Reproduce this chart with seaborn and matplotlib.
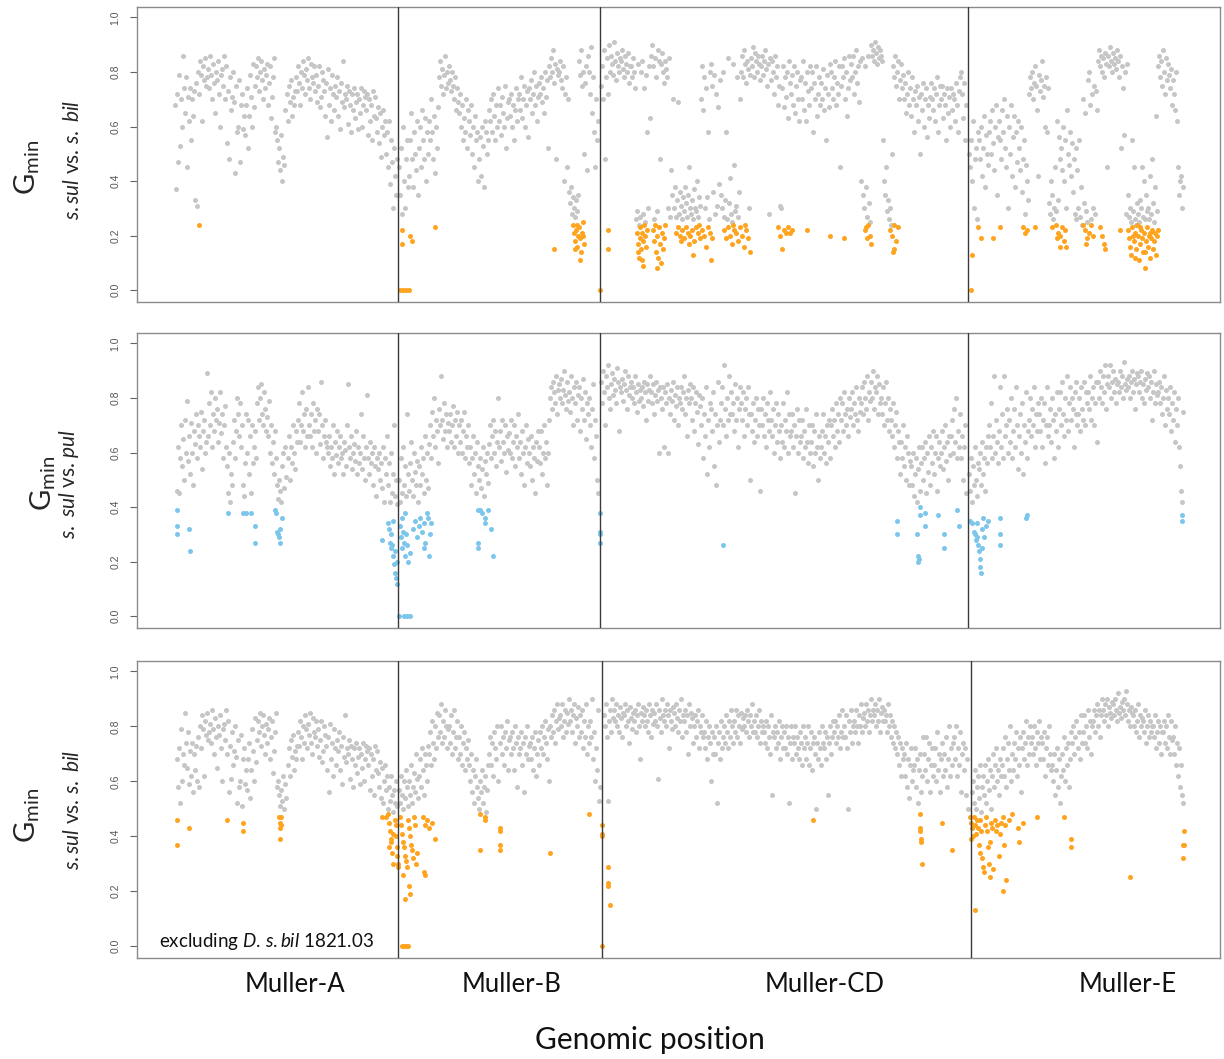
import numpy as np
import pandas as pd
import matplotlib
matplotlib.use("Agg")
import matplotlib.pyplot as plt
import seaborn as sns

# ---------------- data (Gmin values x100, windows in genomic order) ----------------
# panel 1 : s.sul vs s.bil
p1_A = [68,37,72,47,79,53,70,60,86,74, 65,78,45,71,62,74,55,70,64,73,
        33,76,31,80,72,84,79,62,82,77, 85,75,78,81,74,86,79,70,83,76,
        65,80,77,84,72,60,79,81,75,86, 70,82,54,73,48,78,66,71,80,69,
        43,75,58,60,77,47,68,72,59,64, 57,68,74,52,64,79,71,60,83,67,
        75,82,78,85,73,80,84,77,70,81, 74,79,83,68,76,82,63,71,78,85,
        58,60,55,47,52,44,57,40,49,46, 66,72,62,75,69,77,64,71,68,73,
        78,73,82,76,68,80,74,84,79,72, 81,77,85,74,70,83,78,76,82,73,
        79,69,75,82,67,71,80,77,73,64, 76,56,81,68,74,62,79,72,66,75,
        71,78,64,73,59,76,69,84,67,72, 70,75,61,73,68,58,72,66,74,63,
        69,72,59,70,65,74,60,68,73,71, 66,72,57,70,62,68,55,73,64,71,
        63,58,67,54,65,49,60,66,57,62, 50,58,45,62,39,55,47,30,52,42,35,48]
p1_B = [45,35,52,28,60,40,30,48,55,38, 42,55,65,48,38,58,50,44,62,35,
        52,60,45,66,55,48,63,40,58,50, 62,55,70,58,48,64,43,60,52,67,
        78,84,75,81,72,79,86,74,80,76, 82,77,73,80,75,70,78,66,74,69,
        65,72,60,68,55,63,58,70,52,66, 62,57,68,50,60,45,64,55,58,40,
        48,56,42,60,53,38,62,58,50,55, 66,62,70,58,72,64,55,68,60,74,
        62,68,57,71,65,60,75,52,63,69, 70,64,72,60,68,55,66,74,62,70,
        72,66,78,63,70,75,60,68,73,56, 74,70,77,65,72,80,68,75,62,71,
        76,72,78,69,74,65,80,71,77,52, 82,78,85,80,88,76,83,48,81,79,
        80,84,77,74,82,40,72,78,45,70, 36,32,38,28,34,30,27,33,29,35,
        84,79,88,75,80,50,76,82,44,86, 80,72,89,65,78,58,45,70,55,62]
p1_CD = [75,82,70,88,48,78,85,72,90,80, 86,83,79,91,84,77,87,82,80,85,
         84,88,81,78,86,83,80,87,76,82, 82,78,85,80,74,26,29,83,24,27,
         80,84,28,74,25,79,58,30,82,63, 86,90,82,26,85,78,29,88,84,48,
         83,87,80,76,84,81,78,30,85,27, 44,35,70,30,38,27,33,69,28,36,
         31,26,34,29,38,32,27,35,45,30, 28,33,26,37,30,29,40,27,34,31,
         70,82,66,78,30,74,34,58,26,80, 83,75,36,79,28,72,31,67,39,77,
         35,30,80,27,33,58,26,85,32,41, 28,25,83,46,29,31,78,27,36,70,
         80,86,78,88,83,76,84,81,30,79, 85,82,89,78,87,84,80,86,83,77,
         82,86,79,84,88,81,75,83,28,85, 77,84,80,72,86,78,82,68,75,31,
         30,74,82,67,78,71,80,63,84,76, 72,79,68,82,65,75,80,70,62,77,
         78,70,84,66,76,62,80,73,68,82, 74,80,58,76,70,82,64,72,78,68,
         76,70,81,66,74,55,79,72,67,83, 80,74,70,78,84,68,76,72,82,45,
         75,82,78,85,70,80,64,74,86,77, 83,78,86,72,80,88,76,82,69,84,
         40,85,35,30,82,38,27,86,32,25, 90,86,88,84,91,87,83,89,85,88,
         86,84,55,40,35,45,29,33,26,30, 24,50,82,78,86,75,80,84,70,77,
         83,74,79,70,76,65,72,80,68,74, 64,78,70,58,73,68,75,62,71,50,
         72,66,76,60,70,74,56,68,63,71, 76,70,66,74,62,72,78,58,68,75,
         70,75,63,72,68,55,74,65,71,60, 74,66,72,70,62,76,68,58,73,78,
         80,72,63,76,55,68]
p1_E = [50,45,55,40,62,30,48,52,26,58, 55,48,60,42,52,64,38,57,50,46,
        58,62,50,66,54,44,60,68,35,56, 62,55,48,66,58,70,52,45,64,30,
        60,50,68,42,56,64,38,58,47,62, 52,44,60,36,48,55,28,46,40,33,
        72,78,74,80,70,76,82,75,66,42, 79,73,77,84,71,75,60,78,58,74,
        32,28,40,35,26,30,45,29,62,33, 56,48,52,44,60,40,55,30,66,50,
        46,58,42,54,36,48,28,52,26,44, 30,55,27,38,24,70,32,65,29,25,
        77,80,68,26,72,30,75,28,73,66, 84,88,82,86,80,85,78,87,83,45,
        86,82,89,84,80,87,83,85,81,88, 84,78,86,52,82,74,57,80,28,83,
        35,27,30,25,55,29,45,26,24,32, 28,25,33,30,45,27,40,26,35,29,
        30,26,42,28,48,32,25,38,64,29, 82,86,78,84,75,88,80,72,85,77,
        83,79,74,81,68,77,72,66,80,62, 45,35,40,42,30,38]
p1_hi = [(199,.24),(400,0),(403,0),(406,0),(409,0),(402,.22),(410,.20),(412,.18),(402,.17),(435,.23),(554,.15),
         (573,.24),(574,.21),(575,.18),(576,.22),(577,.16),(578,.20),(579,.23),(580,.19),(581,.14),(582,.21),
         (583,.25),(584,.17),(580,.11),(577,.24),(583,.20),(575,.15),(600,0),(608,.22),(608,.15),
         (637,.21),(638,.17),(639,.12),(640,.23),(640,.19),(641,.15),(642,.21),(643,.18),(643,.09),(644,.24),
         (645,.20),(646,.16),(647,.22),(638,.14),(642,.11),
         (653,.22),(654,.18),(655,.24),(656,.14),(657,.20),(658,.12),(659,.23),(660,.17),(661,.10),(662,.21),
         (663,.15),(664,.19),(665,.24),(657,.08),
         (676,.21),(678,.23),(680,.20),(682,.22),(684,.19),(686,.23),(688,.21),(690,.20),(692,.22),(694,.18),
         (696,.23),(698,.21),(700,.19),(702,.22),(704,.20),(706,.16),(708,.23),(710,.21),(712,.19),(693,.13),
         (711,.11),(681,.18),(699,.24),(689,.17),
         (724,.22),(726,.19),(728,.23),(730,.20),(732,.17),(734,.22),(736,.21),(738,.18),(740,.23),(742,.20),
         (744,.16),(746,.22),(748,.19),(750,.14),(733,.24),(745,.24),
         (778,.23),(780,.20),(782,.15),(784,.22),(786,.21),(788,.23),(790,.21),(792,.22),
         (807,.22),(830,.20),(844,.19),
         (865,.22),(867,.19),(868,.24),(870,.20),(871,.17),(866,.23),
         (890,.22),(892,.20),(894,.24),(896,.18),(893,.14),(894,.15),(898,.23),
         (972,.13),(971,0),(978,.23),(981,.19),(993,.19),(1000,.23),
         (1023,.23),(1025,.21),(1027,.22),(1035,.23),
         (1052,.23),(1056,.24),(1058,.21),(1060,.20),(1062,.23),(1064,.18),(1066,.16),(1060,.16),(1057,.19),(1065,.22),
         (1083,.24),(1085,.22),(1087,.19),(1089,.21),(1091,.24),(1093,.20),(1086,.17),
         (1100,.23),(1102,.20),(1104,.17),(1105,.15),(1120,.22),
         (1128,.22),(1129,.19),(1130,.16),(1131,.13),(1132,.23),(1133,.20),(1134,.18),(1135,.21),(1136,.15),
         (1137,.24),(1138,.20),(1139,.11),(1140,.17),(1141,.22),(1142,.19),(1143,.14),(1144,.21),(1145,.08),
         (1146,.18),(1147,.23),(1148,.16),(1149,.20),(1150,.12),(1151,.19),(1152,.22),(1153,.15),(1154,.18),
         (1155,.21),(1156,.13),(1157,.20),(1158,.22),(1135,.12),(1140,.23),(1145,.14),(1150,.21)]

# panel 2 : s.sul vs pul
p2_A = [46,62,45,58,70,55,65,50,72,60, 79,57,66,52,71,60,48,68,63,74,
        58,70,66,62,75,54,68,72,60,64, 89,66,78,70,82,62,74,68,80,72,
        76,64,71,82,67,74,58,70,77,62, 55,45,60,42,52,48,64,72,58,68,
        80,74,66,78,62,70,48,44,56,74, 60,72,52,66,45,70,56,62,68,58,
        78,84,72,80,85,74,70,82,76,68, 73,66,79,60,70,56,64,52,68,58,
        48,43,50,46,42,55,60,47,62,51, 58,66,50,62,56,70,60,54,68,64,
        72,78,64,70,82,68,74,62,76,66, 84,70,66,74,62,78,68,72,60,76,
        68,74,63,86,70,58,66,72,64,62, 60,66,55,62,58,70,52,64,59,68,
        56,62,66,58,60,52,64,61,55,70, 85,62,58,66,54,60,63,57,68,52,
        62,56,60,74,54,66,58,50,62,81, 58,52,64,56,60,48,62,55,44,58,
        54,60,50,56,47,62,42,58,52,66, 48,56,42,60,45,52,70,44,50,41]
p2_B = [50,42,58,45,62,48,55,44,74,52, 46,56,64,50,44,60,53,48,57,42,
        55,48,62,52,58,45,66,50,60,47, 63,70,58,75,66,80,62,72,68,56,
        76,70,88,72,65,78,68,74,62,71, 68,74,64,70,77,62,72,66,75,60,
        70,64,72,60,68,75,58,66,62,70, 56,62,48,58,66,52,60,45,64,55,
        50,58,47,54,62,44,57,52,60,49, 63,70,58,66,72,60,68,55,64,80,
        62,68,57,72,64,60,70,53,66,61, 67,60,72,58,64,70,55,66,62,74,
        58,64,52,68,60,48,62,70,56,65, 60,55,66,50,62,58,45,64,57,68,
        62,56,68,52,60,70,58,64,48,60, 72,80,84,76,86,82,78,88,74,83,
        85,80,87,78,83,90,81,76,86,79, 82,75,88,80,70,84,78,86,72,81,
        84,68,80,76,87,72,82,65,78,74, 80,70,62,76,85,58,72,66,50,45]
p2_CD = [86,78,90,82,70,88,84,92,80,76, 85,89,81,87,83,78,91,86,68,84,
         82,87,79,85,90,83,76,88,81,84, 86,80,84,78,88,82,75,85,79,83,
         80,84,77,86,82,72,85,79,83,88, 82,78,85,74,81,86,79,83,60,84,
         80,76,84,62,82,78,85,60,80,74, 83,79,86,72,81,77,84,70,80,78,
         84,76,82,88,74,80,66,83,78,85, 80,72,84,68,78,82,75,63,81,77,
         70,80,58,74,66,84,52,72,62,78, 76,68,82,55,74,48,70,86,64,72,
         78,84,70,92,76,66,80,72,88,74, 82,74,78,68,85,72,80,62,76,84,
         78,72,82,66,76,80,70,84,74,50, 74,68,78,64,72,80,66,76,70,46,
         76,70,80,66,74,62,78,72,68,82, 72,66,76,60,70,78,64,74,68,58,
         70,64,78,62,72,68,82,60,74,66, 68,74,62,70,45,66,76,60,72,64,
         66,72,58,68,62,76,64,56,70,60, 64,70,55,68,60,74,62,50,66,58,
         62,68,74,60,66,56,70,64,72,58, 70,76,66,72,62,78,68,74,64,80,
         72,78,68,82,74,70,76,66,80,73, 76,82,70,78,74,84,72,68,80,75,
         78,84,74,86,80,76,88,72,82,79, 86,80,90,76,84,82,88,74,85,78,
         80,74,84,70,78,86,72,80,68,76, 72,66,78,62,70,75,58,68,64,52,
         64,58,70,55,62,50,66,60,48,57, 55,48,60,44,52,58,42,54,62,46,
         56,62,50,58,64,45,60,53,66,48, 62,56,68,52,60,66,46,58,64,55,
         60,68,54,62,70,57,64,50,66,59, 66,72,60,76,64,80,58,68,62,74,
         58,66,50,62,70,45]
p2_E = [52,46,58,42,55,48,62,50,44,56, 54,60,48,64,52,58,46,62,56,66,
        70,62,78,58,66,88,60,72,64,56, 68,84,62,74,58,88,66,70,76,60,
        72,64,80,58,68,76,62,84,70,54, 66,74,60,78,52,70,64,82,58,68,
        72,80,66,76,70,84,62,74,68,78, 74,68,80,62,72,78,56,70,84,66,
        70,76,64,80,72,58,74,68,82,62, 76,82,70,86,74,66,80,72,88,68,
        78,84,72,80,76,62,82,74,86,70, 74,80,68,84,76,72,86,70,82,78,
        82,76,88,72,80,84,70,78,86,64, 86,80,90,84,78,88,82,92,76,85,
        88,84,92,80,86,90,82,87,78,85, 86,82,90,84,88,80,93,85,83,87,
        84,88,80,86,90,82,87,76,85,89, 88,82,86,90,80,85,78,87,83,89,
        84,88,80,86,72,82,90,78,85,81, 82,86,78,84,74,80,88,70,83,76,
        80,74,84,68,78,72,82,64,76,70, 80,62,55,46,42,75]
p2_hi = [(177,.39),(177,.33),(177,.30),(189,.32),(190,.24),(228,.38),(243,.38),(246,.38),(251,.38),
         (255,.33),(255,.27),(275,.39),(276,.38),(277,.31),(278,.30),(279,.29),(280,.32),(280,.27),(282,.36),
         (382,.28),(388,.34),(389,.32),(390,.27),(391,.25),(392,.26),(393,.22),(394,.19),(395,.16),(396,.14),
         (397,.12),(391,.30),(395,.24),(393,.35),(397,.20),
         (400,.33),(401,.29),(402,.25),(403,.31),(404,.27),(405,.22),(406,.30),(407,.26),(408,.20),(402,.36),
         (405,.38),(410,.23),(399,0),(404,0),(407,0),(410,0),
         (413,.32),(415,.35),(417,.29),(419,.33),(420,.36),(422,.31),(424,.34),(425,.27),(427,.38),(428,.36),
         (430,.30),(431,.34),(424,.25),(429,.22),
         (478,.39),(480,.39),(482,.38),(485,.36),(478,.27),(478,.25),(485,.34),(491,.32),(493,.22),(488,.39),
         (600,.38),(600,.31),(600,.30),(600,.27),
         (723,.26),(897,.35),(897,.30),(917,.30),(918,.22),(918,.20),(919,.21),(920,.37),(920,.40),(925,.38),
         (925,.33),(938,.37),(944,.30),(944,.25),(957,.39),(959,.33),
         (970,.35),(972,.34),(974,.31),(975,.30),(976,.28),(977,.29),(978,.26),(979,.24),(980,.21),(980,.18),
         (981,.16),(982,.32),(983,.36),(984,.29),(986,.33),(988,.35),(982,.25),(977,.34),
         (1000,.36),(1000,.30),(1000,.26),(1026,.36),(1027,.37),(1182,.37),(1182,.35)]

# panel 3 : s.sul vs s.bil, excluding D. s.bil 1821.03
p3_A = [68,58,72,52,79,60,70,66,85,74, 65,78,59,71,62,74,56,70,64,73,
        60,76,58,80,72,84,79,62,82,77, 85,75,78,81,74,86,79,70,83,76,
        65,80,77,84,72,60,79,81,75,86, 70,82,56,73,61,78,66,71,80,69,
        52,75,58,60,77,51,68,72,59,64, 57,68,74,54,64,79,71,60,83,67,
        75,82,78,85,73,80,84,77,70,81, 74,79,83,68,76,82,63,71,78,85,
        58,60,55,51,57,53,62,50,59,54, 66,72,62,75,69,77,64,71,68,73,
        78,73,82,76,68,80,74,84,79,72, 81,77,85,74,70,83,78,76,82,73,
        79,69,75,82,67,71,80,77,73,64, 76,56,81,68,74,62,79,72,66,75,
        71,78,64,73,59,76,69,84,67,72, 70,75,61,73,68,58,72,66,74,63,
        69,72,59,70,65,74,60,68,73,71, 66,72,57,70,62,68,55,73,64,71,
        63,58,67,54,65,52,60,66,57,62, 50,58,53,62,55,49,57,52,60,51]
p3_B = [57,52,62,55,50,60,54,64,58,51, 60,55,66,52,58,63,56,70,61,54,
        62,68,58,72,64,55,70,66,60,73, 70,78,66,82,74,68,80,72,85,76,
        84,78,88,74,82,76,86,80,72,79, 80,74,84,70,78,86,72,76,82,68,
        76,70,80,66,74,78,64,72,68,75, 66,60,70,56,64,52,62,68,58,54,
        50,60,56,64,52,58,62,49,57,66, 70,76,66,74,62,78,72,68,80,60,
        74,80,70,76,66,78,72,82,64,75, 76,70,78,72,64,80,74,58,76,70,
        72,78,66,74,56,76,70,80,68,73, 74,68,76,64,72,78,62,70,75,66,
        78,72,80,70,76,82,74,68,79,60, 80,76,84,78,86,74,82,88,79,83,
        84,80,88,76,82,86,78,85,81,90, 82,86,78,84,88,74,83,80,87,76,
        84,78,86,72,82,76,88,70,80,74, 82,76,90,68,78,60,72,64,86,53,58]
p3_CD = [84,80,88,76,53,82,86,78,90,83, 86,82,88,80,84,78,87,83,76,85,
         84,88,80,86,82,74,87,83,79,85, 82,86,78,84,88,80,68,85,82,87,
         84,80,86,82,78,88,84,76,86,81, 85,82,88,80,61,86,83,78,90,84,
         82,86,80,88,84,72,86,82,79,87, 85,80,88,83,78,86,82,90,76,84,
         82,86,78,84,70,88,80,85,83,74, 80,84,76,82,86,72,80,78,84,76,
         78,72,82,68,76,80,74,60,78,70, 76,70,80,52,74,78,68,82,72,76,
         80,74,84,78,72,82,76,86,80,74, 82,78,86,76,84,80,74,85,79,83,
         80,84,78,86,82,76,84,80,88,78, 82,78,84,76,80,86,74,82,78,80,
         78,74,82,72,80,76,70,84,55,78, 76,80,72,78,74,82,68,76,80,72,
         78,72,80,70,76,52,74,80,68,76, 74,80,70,76,72,68,78,74,66,80,
         72,76,68,74,80,66,72,78,64,74, 76,70,50,74,68,78,72,66,80,74,
         72,78,68,76,55,74,80,70,76,82, 78,82,74,80,76,84,72,78,86,76,
         80,76,84,72,50,82,78,86,74,80, 82,78,86,80,74,84,80,88,78,83,
         85,80,88,82,86,78,84,90,82,86, 84,88,80,86,82,90,78,85,87,82,
         86,82,84,78,88,80,84,76,82,74, 80,72,78,70,76,66,74,62,72,68,
         70,62,74,58,68,54,66,72,60,64, 66,72,58,68,52,64,70,56,62,76,
         70,64,76,60,68,74,56,66,72,62, 66,72,60,78,64,70,56,68,74,62,
         70,64,76,58,68,80,62,72,66,74, 76,68,80,62,72,66,78,56,70,74,
         64,72,55,68,50]
p3_E = [56,60,52,64,50,58,62,54,66,49, 58,62,55,66,52,60,68,57,64,50,
        62,70,58,66,72,60,64,55,68,62, 66,72,62,76,58,68,74,64,80,60,
        70,64,74,68,78,62,72,66,76,56, 72,78,68,74,82,66,76,70,80,74,
        76,70,80,72,66,78,74,82,68,76, 74,68,78,62,72,76,66,80,70,64,
        66,60,70,55,64,72,58,68,52,62, 70,64,76,60,72,66,74,58,68,78,
        74,80,70,76,82,72,78,68,84,74, 78,84,74,80,72,86,76,82,70,80,
        82,86,78,84,88,80,86,76,84,90, 86,82,88,84,90,80,87,85,83,89,
        88,84,90,86,82,92,85,87,83,89, 86,90,84,93,88,82,86,80,87,85,
        84,80,86,78,82,88,76,84,80,83, 82,78,86,74,80,84,76,82,78,80,
        80,76,84,72,78,82,74,80,70,78, 78,82,74,80,72,84,76,70,82,75,
        76,70,80,66,74,62,72,58,66,55,52]
p3_hi = [(177,.46),(177,.37),(189,.43),(227,.46),(243,.45),(243,.42),(279,.47),(280,.45),(280,.43),
         (281,.44),(280,.39),(281,.47),
         (382,.47),(386,.47),(388,.48),(389,.45),(390,.42),(391,.39),(391,.38),(392,.34),(393,.30),(393,.41),
         (389,.36),(395,.46),(396,.44),(396,.40),(397,.36),(397,.33),(398,.30),(398,.29),
         (400,.47),(401,.44),(402,.41),(403,.38),(404,.36),(405,.33),(406,.31),(407,.29),(408,.46),(409,.43),
         (410,.40),(411,.37),(412,.35),(413,.32),(414,.47),(415,.44),(416,.30),(417,.34),(403,.26),(405,.17),
         (410,.19),(409,.22),(402,0),(404,0),(406,0),(408,0),
         (423,.47),(425,.44),(427,.46),(429,.43),(432,.45),(435,.39),(424,.27),(425,.26),
         (480,.48),(485,.47),(485,.46),(480,.35),(500,.43),(500,.42),(500,.37),(500,.35),(550,.34),(589,.48),
         (602,.44),(602,.41),(602,.40),(602,0),(608,.29),(608,.23),(608,.22),(610,.15),
         (813,.46),(920,.48),(920,.43),(920,.42),(921,.39),(921,.38),(922,.30),(942,.45),(952,.35),
         (970,.47),(971,.45),(972,.43),(973,.40),(974,.47),(975,.44),(976,.41),(977,.46),(978,.43),(979,.37),
         (980,.34),(980,.46),(981,.42),(982,.32),(983,.29),(984,.27),(985,.44),(986,.47),(987,.42),(988,.36),
         (989,.30),(990,.25),(991,.45),(992,.43),(993,.28),(995,.46),(997,.44),(999,.33),(1000,.41),(1001,.45),
         (1003,.47),(1004,.37),(1005,.44),(1006,.24),(1003,.20),(975,.13),(971,.39),(990,.38),(996,.42),
         (1009,.46),(1012,.48),(1018,.43),(1019,.38),(1023,.45),(1037,.47),(1064,.47),(1071,.39),(1071,.36),
         (1130,.25),(1184,.42),(1184,.37),(1183,.37),(1183,.32)]

chrom_names = ["Muller-A", "Muller-B", "Muller-CD", "Muller-E"]
# window spans (genomic position units) of each chromosome per panel
p1_spans = [(175, 397), (399, 598), (601, 966), (969, 1183)]
p2_spans = [(177, 397), (399, 598), (601, 966), (969, 1183)]
p3_spans = [(177, 397), (399, 600), (604, 968), (972, 1183)]
p1_bounds = [398, 600, 968]
p2_bounds = [398, 600, 968]
p3_bounds = [398, 602, 971]

GRAY = "#c6c6c6"
ORANGE = "#ffa41f"
BLUE = "#7cc6ec"

# ---------------- style ----------------
sns.set_theme(style="white")
plt.rcParams['font.family'] = ['Lato', 'DejaVu Sans']
plt.rcParams['mathtext.fontset'] = 'custom'
plt.rcParams['mathtext.rm'] = 'Lato'
plt.rcParams['mathtext.it'] = 'Lato:italic'
plt.rcParams['mathtext.bf'] = 'Lato:bold'

W, H = 1224, 1059
fig = plt.figure(figsize=(W / 100, H / 100), dpi=100)
fx = lambda px: px / W
fy = lambda py: 1 - py / H

panels = [
    dict(gray=[p1_A, p1_B, p1_CD, p1_E], spans=p1_spans, hi=p1_hi, col=ORANGE,
         bounds=p1_bounds, box=(7, 302)),
    dict(gray=[p2_A, p2_B, p2_CD, p2_E], spans=p2_spans, hi=p2_hi, col=BLUE,
         bounds=p2_bounds, box=(333, 628)),
    dict(gray=[p3_A, p3_B, p3_CD, p3_E], spans=p3_spans, hi=p3_hi, col=ORANGE,
         bounds=p3_bounds, box=(661, 958)),
]

for i, p in enumerate(panels):
    top, bot = p["box"]
    ax = fig.add_axes([fx(137), fy(bot), fx(1220) - fx(137), (bot - top) / H])
    frames = []
    for name, vals, (a, b) in zip(chrom_names, p["gray"], p["spans"]):
        frames.append(pd.DataFrame({"pos": np.linspace(a, b, len(vals)),
                                    "gmin": np.array(vals) / 100.0,
                                    "chrom": name}))
    df = pd.concat(frames, ignore_index=True)
    sns.scatterplot(data=df, x="pos", y="gmin", color=GRAY, s=13, linewidth=0,
                    ax=ax, legend=False, zorder=2)
    hx, hy = zip(*p["hi"])
    sns.scatterplot(x=list(hx), y=list(hy), color=p["col"], s=13, linewidth=0,
                    ax=ax, legend=False, zorder=3)
    for bx in p["bounds"]:
        ax.axvline(bx, color="#3a3a3a", lw=1.0, zorder=4)
    ax.set_xlim(137, 1220)
    ax.set_ylim(-0.043, 1.038)
    ax.set_xticks([])
    ax.set_yticks([0, 0.2, 0.4, 0.6, 0.8, 1.0])
    ax.set_yticklabels(["0.0", "0.2", "0.4", "0.6", "0.8", "1.0"], rotation=90, va="center",
                       fontfamily="Liberation Sans", fontsize=7.5, color="#555555")
    ax.tick_params(axis="y", length=5, width=0.8, color="#666666", pad=7, left=True)
    ax.set_xlabel("")
    ax.set_ylabel("")
    for sp in ax.spines.values():
        sp.set_color("#8a8a8a")
        sp.set_linewidth(1.0)
        sp.set_visible(True)

# y labels
gmin = r"$\mathrm{G}_{\mathrm{min}}$"
fig.text(fx(27), fy(167), gmin, rotation=90, fontsize=21, ha="center", va="center")
fig.text(fx(73), fy(160), r"$\mathit{s.sul}$ vs. $\mathit{s.\ bil}$", rotation=90,
         fontsize=15, ha="center", va="center")
fig.text(fx(43), fy(483), gmin, rotation=90, fontsize=21, ha="center", va="center")
fig.text(fx(69), fy(484), r"$\mathit{s.\ sul}$ vs. $\mathit{pul}$", rotation=90,
         fontsize=15, ha="center", va="center")
fig.text(fx(27), fy(815), gmin, rotation=90, fontsize=21, ha="center", va="center")
fig.text(fx(73), fy(810), r"$\mathit{s.sul}$ vs. $\mathit{s.\ bil}$", rotation=90,
         fontsize=15, ha="center", va="center")

fig.text(fx(266), fy(942), r"excluding $\mathit{D.\,s.bil}$ 1821.03", fontsize=13.5,
         ha="center", va="center", color="#111111")

for name, cx in zip(chrom_names, [295, 512, 825, 1128]):
    fig.text(fx(cx), fy(985), name, fontsize=18.5, ha="center", va="center", color="#111111")
fig.text(fx(650), fy(1040), "Genomic position", fontsize=21.5, ha="center", va="center",
         color="#111111")

fig.savefig("out.png", dpi=100)
